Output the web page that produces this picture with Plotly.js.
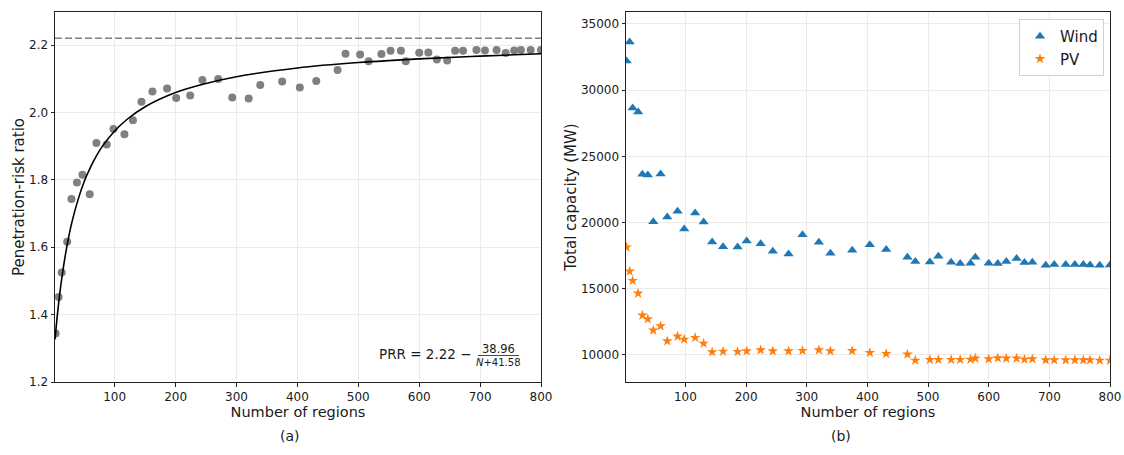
<!DOCTYPE html>
<html>
<head>
<meta charset="utf-8">
<script src="https://cdn.plot.ly/plotly-3.0.1.min.js"></script>
<style>html,body{margin:0;padding:0;background:#fff;}#chart{width:1124px;height:455px;}</style>
</head>
<body>
<div id="chart"></div>
<script>
// Number of regions (shared by both panels)
const regions = [3, 8, 13, 22, 29, 38, 47, 59, 70, 87, 98, 116, 130, 144, 162, 186, 201, 224, 244, 270, 293, 320, 339, 375,
                 404, 431, 466, 479, 503, 517, 538, 553, 570, 578, 600, 615, 629, 646, 659, 672, 694, 708, 727, 742, 756, 767, 783, 800];
// Panel (a): penetration-risk ratio
const prr = [1.344, 1.452, 1.525, 1.616, 1.743, 1.792, 1.815, 1.757, 1.909, 1.905, 1.951, 1.935, 1.977, 2.032, 2.062, 2.071, 2.043, 2.050, 2.096, 2.099, 2.044, 2.041, 2.081, 2.092,
             2.074, 2.093, 2.126, 2.174, 2.172, 2.152, 2.173, 2.183, 2.183, 2.152, 2.177, 2.178, 2.157, 2.154, 2.183, 2.183, 2.185, 2.184, 2.185, 2.176, 2.184, 2.185, 2.185, 2.185];
// Fitted curve
const fitN   = [2, 4, 6, 8, 10, 13, 16, 20, 25, 30, 40, 50, 60, 70, 80, 100, 120, 150, 200, 250, 300, 400, 500, 600, 700, 800];
const fitPRR = [1.326, 1.365, 1.401, 1.434, 1.465, 1.506, 1.543, 1.587, 1.635, 1.676, 1.742, 1.795, 1.836, 1.871, 1.900, 1.945, 1.979, 2.017, 2.059, 2.086, 2.106, 2.132, 2.148, 2.159, 2.167, 2.174];
const prrAsymptote = 2.22;
// Panel (b): total capacity (MW)
const wind = [32205, 33640, 28655, 28353, 23644, 23594, 20068, 23669, 20420, 20849, 19514, 20723, 20043, 18533, 18180, 18155, 18608, 18407, 17828, 17626, 19086, 18507, 17676, 17900,
              18325, 17970, 17386, 17056, 17030, 17462, 17005, 16904, 16929, 17386, 16929, 16904, 17056, 17284, 16980, 17005, 16777, 16828, 16828, 16828, 16828, 16802, 16777, 16802];
const pv = [18129, 16316, 15611, 14654, 12993, 12716, 11860, 12187, 11054, 11407, 11180, 11306, 10878, 10223, 10273, 10248, 10298, 10374, 10298, 10298, 10324, 10374, 10298, 10320,
            10178, 10102, 10051, 9594, 9645, 9645, 9645, 9645, 9670, 9746, 9696, 9772, 9746, 9746, 9670, 9696, 9620, 9620, 9620, 9620, 9620, 9620, 9594, 9594];

const W = 1124, H = 455;
const px = v => v / W, py = v => 1 - v / H;
const gridc = '#ebebeb';
const txt = '#1a1a1a';
const tickFont = {family: 'DejaVu Sans', size: 12, color: txt};
const xTitleFont = {family: 'DejaVu Sans', size: 14.5, color: txt};
const yTitleFont = {family: 'DejaVu Sans', size: 15, color: txt};

const traces = [
  {x: regions, y: prr, type: 'scatter', mode: 'markers', marker: {color: '#808080', size: 8}, xaxis: 'x', yaxis: 'y', showlegend: false},
  {x: fitN, y: fitPRR, type: 'scatter', mode: 'lines', line: {color: 'black', width: 1.6, shape: 'spline'}, xaxis: 'x', yaxis: 'y', showlegend: false},
  {x: regions, y: wind, type: 'scatter', mode: 'markers', name: 'Wind', marker: {color: '#1f77b4', size: 9, symbol: 'triangle-up'}, xaxis: 'x2', yaxis: 'y2'},
  {x: regions, y: pv, type: 'scatter', mode: 'markers', name: 'PV', marker: {color: '#ff7f0e', size: 8, symbol: 'star'}, xaxis: 'x2', yaxis: 'y2'}
];

const axCommon = {showgrid: true, gridcolor: gridc, gridwidth: 1, showline: true, linecolor: '#222', linewidth: 1, mirror: true,
                  ticks: 'outside', ticklen: 3.5, tickcolor: '#222', zeroline: false, tickfont: tickFont};

const layout = {
  width: W, height: H,
  margin: {l: 0, r: 0, t: 0, b: 0},
  paper_bgcolor: 'white', plot_bgcolor: 'white',
  font: {family: 'DejaVu Sans'},
  xaxis: Object.assign({}, axCommon, {domain: [px(55), px(541)], range: [2, 800], dtick: 100, tick0: 0, anchor: 'y',
          title: {text: 'Number of regions', font: xTitleFont, standoff: 3}}),
  yaxis: Object.assign({}, axCommon, {domain: [1 - 382 / H, 1 - 12 / H], range: [1.2, 2.298], dtick: 0.2, tick0: 1.2, tickformat: '.1f', anchor: 'x',
          title: {text: 'Penetration-risk ratio', font: yTitleFont, standoff: 0}}),
  xaxis2: Object.assign({}, axCommon, {domain: [px(626), px(1110)], range: [2, 800], dtick: 100, tick0: 0, anchor: 'y2',
          title: {text: 'Number of regions', font: xTitleFont, standoff: 3}}),
  yaxis2: Object.assign({}, axCommon, {domain: [1 - 382 / H, 1 - 12 / H], range: [7960, 35900], dtick: 5000, tick0: 10000, tickformat: 'd', anchor: 'x2',
          title: {text: 'Total capacity (MW)', font: yTitleFont, standoff: 0}}),
  legend: {x: px(1104), xanchor: 'right', y: py(19), yanchor: 'top', bgcolor: 'white', bordercolor: '#d0d0d0', borderwidth: 1,
           font: {family: 'DejaVu Sans', size: 15, color: txt}, tracegroupgap: 0},
  shapes: [
    {type: 'line', xref: 'x domain', yref: 'y', x0: 0, x1: 1, y0: prrAsymptote, y1: prrAsymptote, line: {color: '#808080', width: 1.5, dash: '7px,3px'}},
    {type: 'line', xref: 'paper', yref: 'paper', x0: px(478), x1: px(519), y0: py(355.5), y1: py(355.5), line: {color: txt, width: 0.8}}
  ],
  annotations: [
    {xref: 'paper', yref: 'paper', x: px(473), y: py(354), xanchor: 'right', yanchor: 'middle', showarrow: false,
     text: 'PRR = 2.22 −', font: {family: 'DejaVu Sans', size: 13.5, color: txt}},
    {xref: 'paper', yref: 'paper', x: px(498), y: py(348.5), xanchor: 'center', yanchor: 'middle', showarrow: false,
     text: '38.96', font: {family: 'DejaVu Sans', size: 11.5, color: txt}},
    {xref: 'paper', yref: 'paper', x: px(498), y: py(362), xanchor: 'center', yanchor: 'middle', showarrow: false,
     text: '<i>N</i>+41.58', font: {family: 'DejaVu Sans', size: 10, color: txt}},
    {xref: 'paper', yref: 'paper', x: px(290), y: py(436), xanchor: 'center', yanchor: 'middle', showarrow: false,
     text: '(a)', font: {family: 'DejaVu Sans', size: 14, color: txt}},
    {xref: 'paper', yref: 'paper', x: px(841), y: py(436), xanchor: 'center', yanchor: 'middle', showarrow: false,
     text: '(b)', font: {family: 'DejaVu Sans', size: 14, color: txt}}
  ]
};

Plotly.newPlot('chart', traces, layout, {displayModeBar: false, staticPlot: true});
</script>
</body>
</html>
